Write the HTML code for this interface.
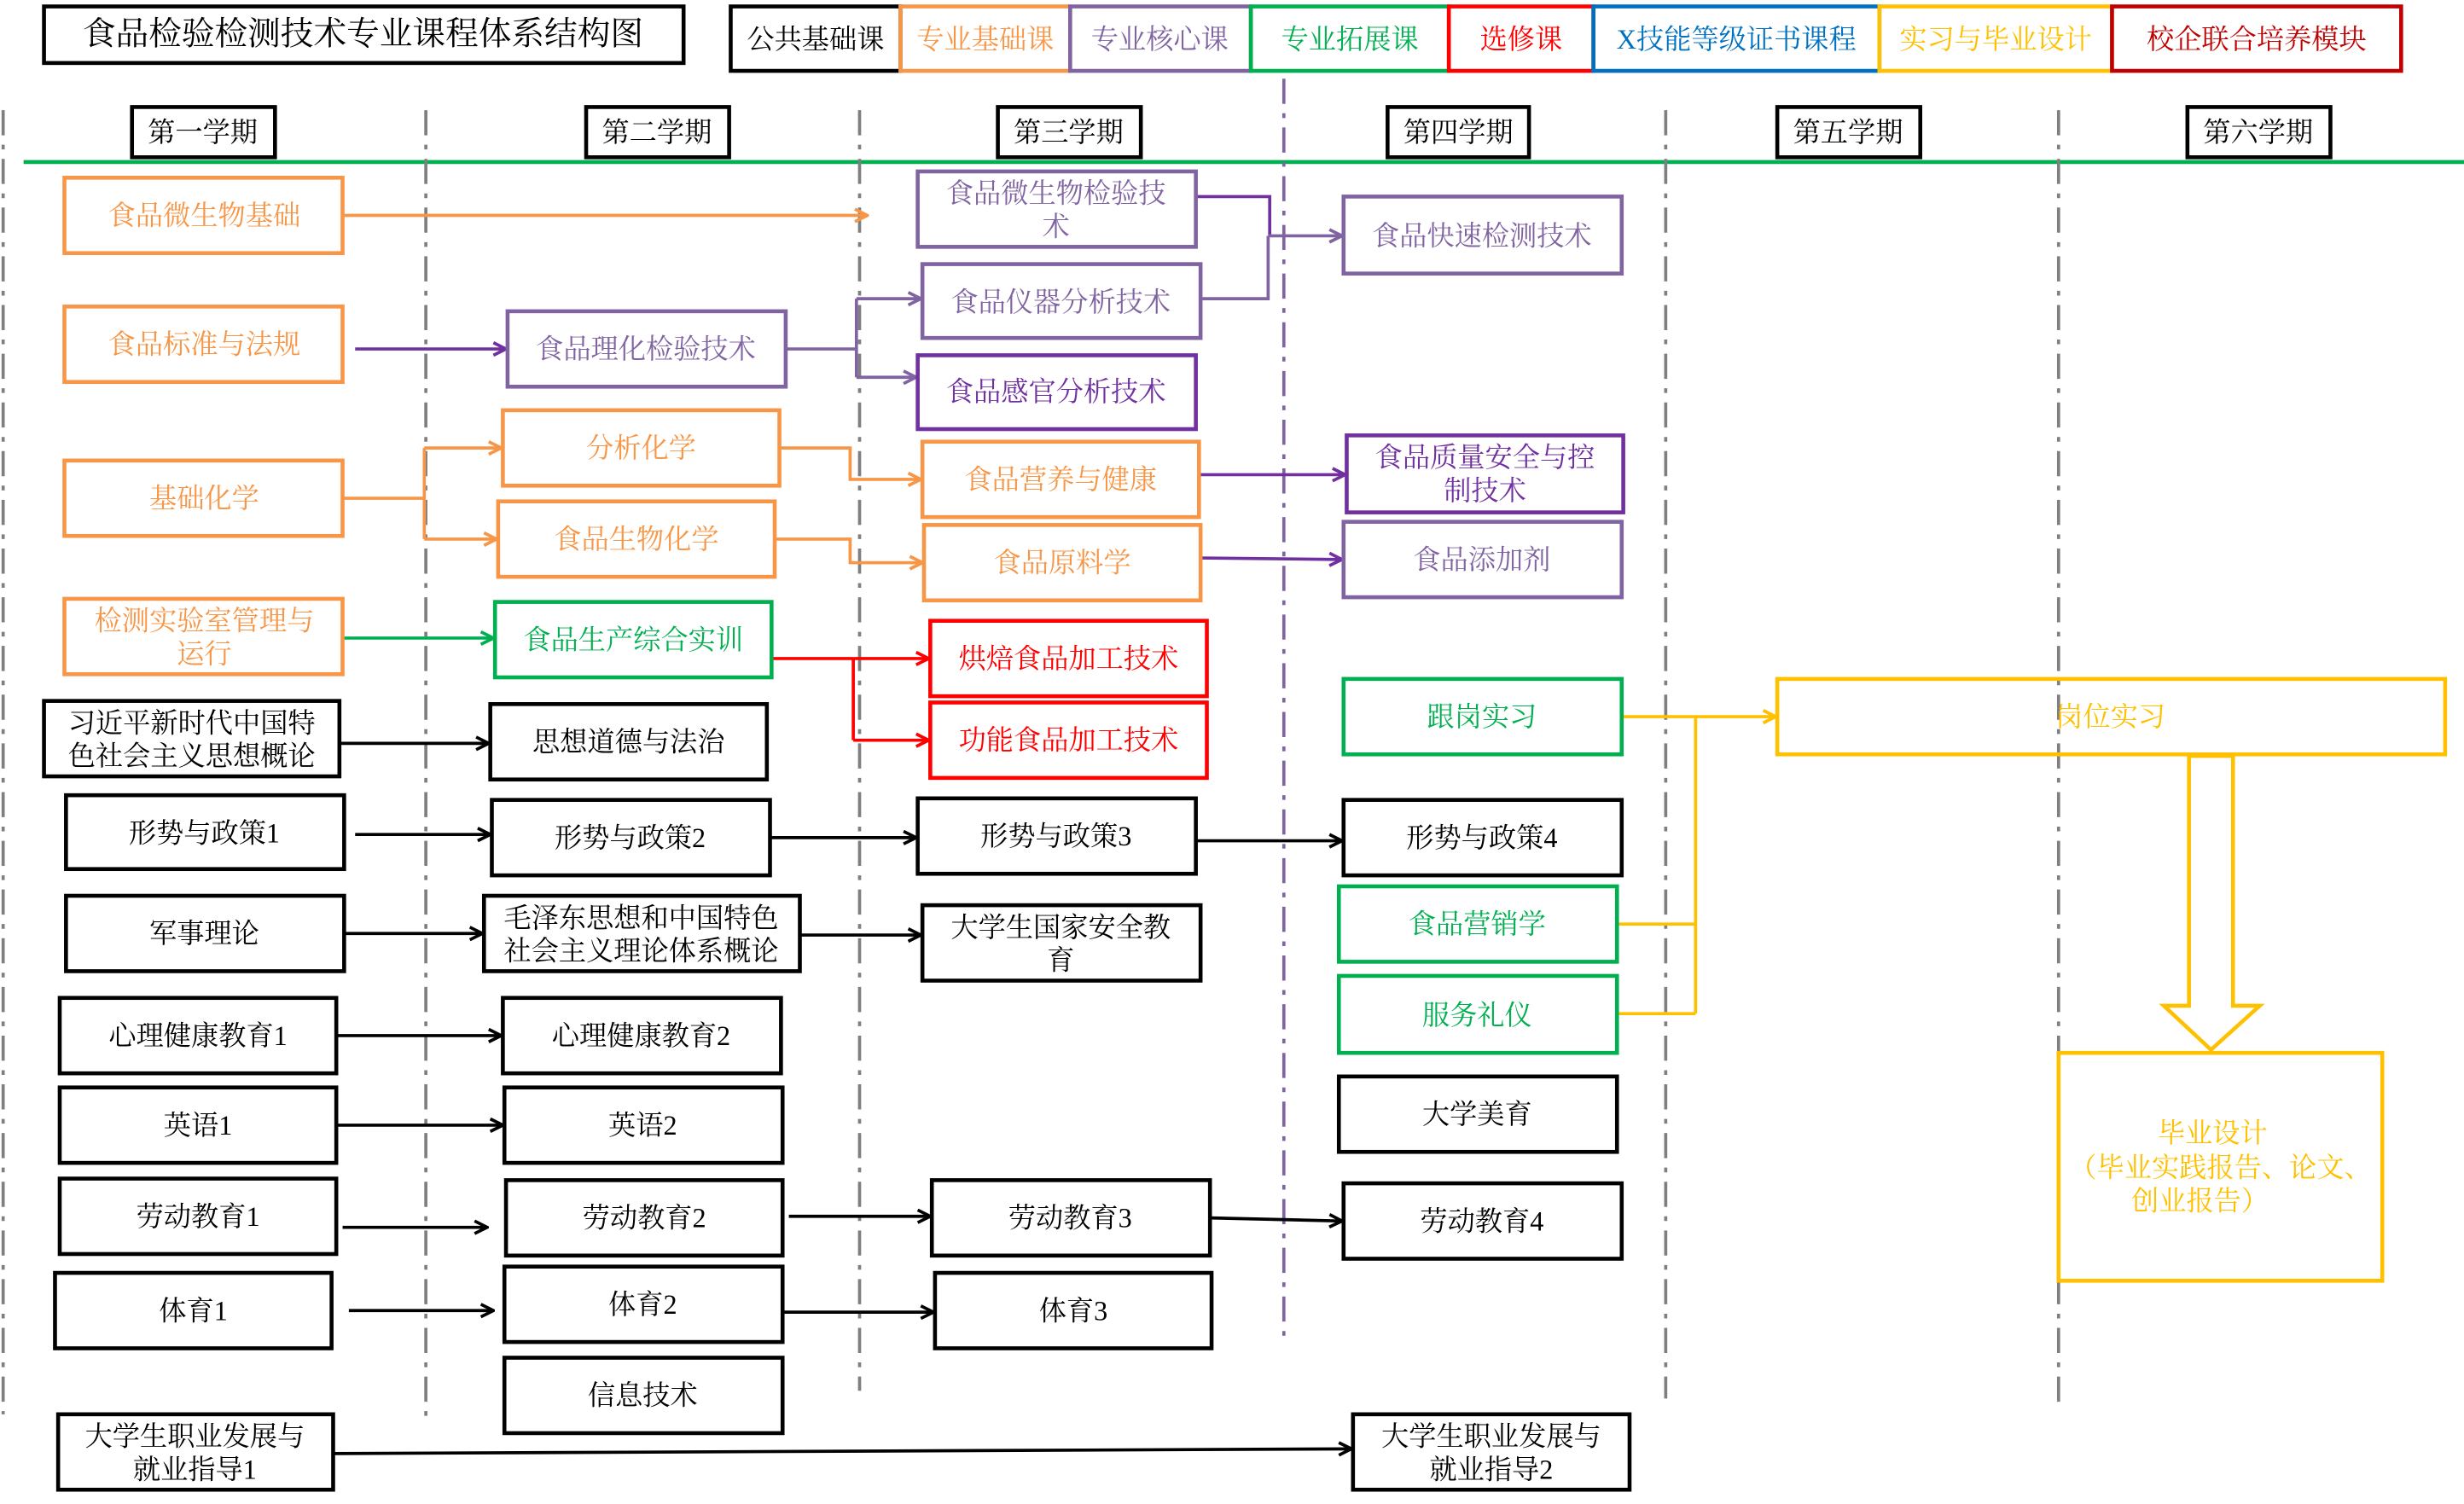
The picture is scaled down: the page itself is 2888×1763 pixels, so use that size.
<!DOCTYPE html>
<html><head><meta charset="utf-8"><style>
html,body{margin:0;padding:0;background:#fff;}
svg{display:block;}
text{font-family:"Liberation Serif","Noto Serif CJK SC",serif;font-size:17.5px;text-anchor:middle;dominant-baseline:central;}
</style></head><body>
<svg width="2888" height="1763" viewBox="0 0 1568 957" xmlns="http://www.w3.org/2000/svg">
<defs>
<marker id="mk" viewBox="0 0 10 10" refX="9" refY="5" markerWidth="10" markerHeight="10" markerUnits="userSpaceOnUse" orient="auto"><path d="M1,1 L9,5 L1,9" fill="none" stroke="#000" stroke-width="2"/></marker>
<marker id="mo" viewBox="0 0 10 10" refX="9" refY="5" markerWidth="10" markerHeight="10" markerUnits="userSpaceOnUse" orient="auto"><path d="M1,1 L9,5 L1,9" fill="none" stroke="#F79646" stroke-width="2"/></marker>
<marker id="mp" viewBox="0 0 10 10" refX="9" refY="5" markerWidth="10" markerHeight="10" markerUnits="userSpaceOnUse" orient="auto"><path d="M1,1 L9,5 L1,9" fill="none" stroke="#7030A0" stroke-width="2"/></marker>
<marker id="ml" viewBox="0 0 10 10" refX="9" refY="5" markerWidth="10" markerHeight="10" markerUnits="userSpaceOnUse" orient="auto"><path d="M1,1 L9,5 L1,9" fill="none" stroke="#8064A2" stroke-width="2"/></marker>
<marker id="mg" viewBox="0 0 10 10" refX="9" refY="5" markerWidth="10" markerHeight="10" markerUnits="userSpaceOnUse" orient="auto"><path d="M1,1 L9,5 L1,9" fill="none" stroke="#00B050" stroke-width="2"/></marker>
<marker id="mr" viewBox="0 0 10 10" refX="9" refY="5" markerWidth="10" markerHeight="10" markerUnits="userSpaceOnUse" orient="auto"><path d="M1,1 L9,5 L1,9" fill="none" stroke="#FF0000" stroke-width="2"/></marker>
<marker id="my" viewBox="0 0 10 10" refX="9" refY="5" markerWidth="10" markerHeight="10" markerUnits="userSpaceOnUse" orient="auto"><path d="M1,1 L9,5 L1,9" fill="none" stroke="#FFC000" stroke-width="2"/></marker>
</defs>

<rect x="28" y="4" width="407" height="36" fill="none" stroke="#000" stroke-width="2.5"/>
<text x="231" y="22" style="font-size:21px">食品检验检测技术专业课程体系结构图</text>
<g stroke-width="2.5" fill="none">
<rect x="465" y="4" width="108" height="41" stroke="#000"/>
<rect x="573" y="4" width="108" height="41" stroke="#F79646"/>
<rect x="681" y="4" width="115" height="41" stroke="#8064A2"/>
<rect x="796" y="4" width="126" height="41" stroke="#00B050"/>
<rect x="922" y="4" width="92" height="41" stroke="#FF0000"/>
<rect x="1014" y="4" width="182" height="41" stroke="#0070C0"/>
<rect x="1196" y="4" width="148" height="41" stroke="#FFC000"/>
<rect x="1344" y="4" width="184" height="41" stroke="#C00000"/>
</g>
<text x="519" y="25">公共基础课</text>
<text x="627" y="25" fill="#F79646">专业基础课</text>
<text x="738" y="25" fill="#8064A2">专业核心课</text>
<text x="859" y="25" fill="#00B050">专业拓展课</text>
<text x="968" y="25" fill="#FF0000">选修课</text>
<text x="1105" y="25" fill="#0070C0">X技能等级证书课程</text>
<text x="1270" y="25" fill="#FFC000">实习与毕业设计</text>
<text x="1436" y="25" fill="#C00000">校企联合培养模块</text>

<g fill="none" stroke="#000" stroke-width="2.5">
<rect x="84" y="68" width="91" height="32"/><rect x="373" y="68" width="91" height="32"/>
<rect x="635" y="68" width="91" height="32"/><rect x="883" y="68" width="90" height="32"/>
<rect x="1131" y="68" width="91" height="32"/><rect x="1392" y="68" width="91" height="32"/>
</g>
<text x="129" y="84">第一学期</text><text x="418" y="84">第二学期</text><text x="680" y="84">第三学期</text>
<text x="928" y="84">第四学期</text><text x="1176" y="84">第五学期</text><text x="1437" y="84">第六学期</text>
<line x1="15" y1="103" x2="1568" y2="103" stroke="#00B050" stroke-width="2.5"/>

<g stroke="#7F7F7F" stroke-width="2" stroke-dasharray="16,6,3,6" fill="none">
<line x1="2" y1="70" x2="2" y2="900"/>
<line x1="271" y1="70" x2="271" y2="905"/>
<line x1="547" y1="70" x2="547" y2="885"/>
<line x1="1060" y1="70" x2="1060" y2="890"/>
<line x1="1310" y1="70" x2="1310" y2="895"/>
<line x1="817" y1="50" x2="817" y2="855" stroke="#8064A2"/>
</g>

<g fill="none" stroke-width="2">
<g stroke="#F79646">
<line x1="218" y1="137" x2="552" y2="137" marker-end="url(#mo)"/>
<polyline points="218,317 270,317"/><line x1="270" y1="285" x2="270" y2="343"/>
<line x1="270" y1="285" x2="319" y2="285" marker-end="url(#mo)"/>
<line x1="270" y1="343" x2="316" y2="343" marker-end="url(#mo)"/>
<polyline points="496,285 541,285 541,305 586,305" marker-end="url(#mo)"/>
<polyline points="493,343 541,343 541,358 587,358" marker-end="url(#mo)"/>
</g>
<g stroke="#7030A0">
<line x1="226" y1="222" x2="322" y2="222" marker-end="url(#mp)"/>
<line x1="763" y1="302" x2="856" y2="302" marker-end="url(#mp)"/>
<line x1="764" y1="355" x2="854" y2="356" marker-end="url(#mp)"/>
<polyline points="761,125 808,125 808,150"/>
</g>
<g stroke="#8064A2">
<polyline points="500,222 545,222"/><line x1="545" y1="190" x2="545" y2="240"/>
<line x1="545" y1="190" x2="586" y2="190" marker-end="url(#ml)"/>
<line x1="545" y1="240" x2="583" y2="240" marker-end="url(#ml)"/>
<polyline points="764,190 807,190 807,150"/>
<line x1="807" y1="150" x2="854" y2="150" marker-end="url(#ml)"/>
</g>
<line stroke="#00B050" x1="218" y1="406" x2="314" y2="406" marker-end="url(#mg)"/>
<g stroke="#FF0000">
<polyline points="491,419 543,419"/><line x1="543" y1="419" x2="543" y2="471"/>
<line x1="543" y1="419" x2="591" y2="419" marker-end="url(#mr)"/>
<line x1="543" y1="471" x2="591" y2="471" marker-end="url(#mr)"/>
</g>
<g stroke="#000">
<line x1="216" y1="473" x2="311" y2="473" marker-end="url(#mk)"/>
<line x1="226" y1="531" x2="312" y2="531" marker-end="url(#mk)"/>
<line x1="490" y1="533" x2="583" y2="533" marker-end="url(#mk)"/>
<line x1="761" y1="535" x2="854" y2="535" marker-end="url(#mk)"/>
<line x1="219" y1="594" x2="307" y2="594" marker-end="url(#mk)"/>
<line x1="509" y1="595" x2="586" y2="595" marker-end="url(#mk)"/>
<line x1="214" y1="659" x2="319" y2="659" marker-end="url(#mk)"/>
<line x1="214" y1="716" x2="320" y2="716" marker-end="url(#mk)"/>
<line x1="218" y1="781" x2="310" y2="781" marker-end="url(#mk)"/>
<line x1="502" y1="774" x2="592" y2="774" marker-end="url(#mk)"/>
<line x1="770" y1="775" x2="854" y2="777" marker-end="url(#mk)"/>
<line x1="222" y1="834" x2="314" y2="834" marker-end="url(#mk)"/>
<line x1="498" y1="835" x2="594" y2="835" marker-end="url(#mk)"/>
<line x1="212" y1="925" x2="860" y2="922" marker-end="url(#mk)"/>
</g>
<g stroke="#FFC000">
<line x1="1032" y1="456" x2="1130" y2="456" marker-end="url(#my)"/>
<polyline points="1029,588 1079,588"/><polyline points="1029,645 1079,645"/>
<line x1="1079" y1="456" x2="1079" y2="645"/>
<path d="M1393,481 L1421,481 L1421,640 L1438,640 L1407,668 L1377,640 L1393,640 Z" stroke-width="2.5"/>
</g>
</g>

<g fill="none" stroke-width="2.5">
<g stroke="#F79646">
<rect x="41" y="113" width="177" height="48"/><rect x="41" y="195" width="177" height="48"/>
<rect x="41" y="293" width="177" height="48"/><rect x="41" y="381" width="177" height="48"/>
<rect x="320" y="261" width="176" height="48"/><rect x="317" y="319" width="176" height="48"/>
<rect x="587" y="281" width="176" height="48"/><rect x="588" y="334" width="176" height="48"/>
</g>
<g stroke="#8064A2">
<rect x="323" y="198" width="177" height="48"/><rect x="584" y="109" width="177" height="48"/>
<rect x="587" y="168" width="177" height="47"/><rect x="855" y="125" width="177" height="49"/>
<rect x="855" y="332" width="177" height="48"/>
</g>
<g stroke="#7030A0">
<rect x="584" y="226" width="177" height="47"/><rect x="857" y="277" width="176" height="49"/>
</g>
<g stroke="#00B050">
<rect x="315" y="383" width="176" height="48"/><rect x="855" y="432" width="177" height="48"/>
<rect x="852" y="564" width="177" height="48"/><rect x="852" y="621" width="177" height="49"/>
</g>
<g stroke="#FF0000">
<rect x="592" y="395" width="176" height="48"/><rect x="592" y="447" width="176" height="48"/>
</g>
<g stroke="#FFC000">
<rect x="1131" y="432" width="425" height="48"/><rect x="1310" y="670" width="206" height="145"/>
</g>
<g stroke="#000">
<rect x="28" y="446" width="188" height="48"/><rect x="312" y="448" width="176" height="48"/>
<rect x="42" y="506" width="177" height="47"/><rect x="313" y="509" width="177" height="48"/>
<rect x="584" y="508" width="177" height="48"/><rect x="855" y="509" width="177" height="48"/>
<rect x="42" y="570" width="177" height="48"/><rect x="308" y="570" width="201" height="48"/>
<rect x="587" y="576" width="177" height="48"/>
<rect x="38" y="635" width="176" height="48"/><rect x="320" y="635" width="177" height="48"/>
<rect x="38" y="692" width="176" height="48"/><rect x="321" y="692" width="177" height="48"/>
<rect x="38" y="750" width="176" height="48"/><rect x="322" y="751" width="176" height="48"/>
<rect x="593" y="751" width="177" height="48"/><rect x="855" y="753" width="177" height="48"/>
<rect x="35" y="810" width="176" height="48"/><rect x="321" y="806" width="177" height="48"/>
<rect x="595" y="810" width="176" height="48"/><rect x="321" y="864" width="177" height="48"/>
<rect x="37" y="900" width="175" height="48"/><rect x="861" y="900" width="176" height="48"/>
<rect x="852" y="685" width="177" height="48"/>
</g>
</g>

<g fill="#F79646">
<text x="130" y="137">食品微生物基础</text><text x="130" y="219">食品标准与法规</text>
<text x="130" y="317">基础化学</text>
<text x="130" y="395">检测实验室管理与</text><text x="130" y="416">运行</text>
<text x="408" y="285">分析化学</text><text x="405" y="343">食品生物化学</text>
<text x="675" y="305">食品营养与健康</text><text x="676" y="358">食品原料学</text>
</g>
<g fill="#8064A2">
<text x="411" y="222">食品理化检验技术</text>
<text x="672" y="123">食品微生物检验技</text><text x="672" y="144">术</text>
<text x="675" y="192">食品仪器分析技术</text>
<text x="943" y="150">食品快速检测技术</text><text x="943" y="356">食品添加剂</text>
</g>
<g fill="#7030A0">
<text x="672" y="249">食品感官分析技术</text>
<text x="945" y="291">食品质量安全与控</text><text x="945" y="312">制技术</text>
</g>
<g fill="#00B050">
<text x="403" y="407">食品生产综合实训</text><text x="943" y="456">跟岗实习</text>
<text x="940" y="588">食品营销学</text><text x="940" y="646">服务礼仪</text>
</g>
<g fill="#FF0000">
<text x="680" y="419">烘焙食品加工技术</text><text x="680" y="471">功能食品加工技术</text>
</g>
<g fill="#FFC000">
<text x="1343" y="456">岗位实习</text>
<text x="1408" y="721">毕业设计</text><text x="1413" y="743">（毕业实践报告、论文、</text><text x="1400" y="764">创业报告）</text>
</g>
<g fill="#000">
<text x="122" y="460">习近平新时代中国特</text><text x="122" y="481">色社会主义思想概论</text>
<text x="400" y="472">思想道德与法治</text>
<text x="130" y="530">形势与政策1</text><text x="401" y="533">形势与政策2</text>
<text x="672" y="532">形势与政策3</text><text x="943" y="533">形势与政策4</text>
<text x="130" y="594">军事理论</text>
<text x="408" y="584">毛泽东思想和中国特色</text><text x="408" y="605">社会主义理论体系概论</text>
<text x="675" y="590">大学生国家安全教</text><text x="675" y="611">育</text>
<text x="126" y="659">心理健康教育1</text><text x="408" y="659">心理健康教育2</text>
<text x="126" y="716">英语1</text><text x="409" y="716">英语2</text>
<text x="126" y="774">劳动教育1</text><text x="410" y="775">劳动教育2</text>
<text x="681" y="775">劳动教育3</text><text x="943" y="777">劳动教育4</text>
<text x="123" y="834">体育1</text><text x="409" y="830">体育2</text><text x="683" y="834">体育3</text>
<text x="409" y="888">信息技术</text>
<text x="124" y="914">大学生职业发展与</text><text x="124" y="935">就业指导1</text>
<text x="949" y="914">大学生职业发展与</text><text x="949" y="935">就业指导2</text>
<text x="940" y="709">大学美育</text>
</g>
</svg>
</body></html>
